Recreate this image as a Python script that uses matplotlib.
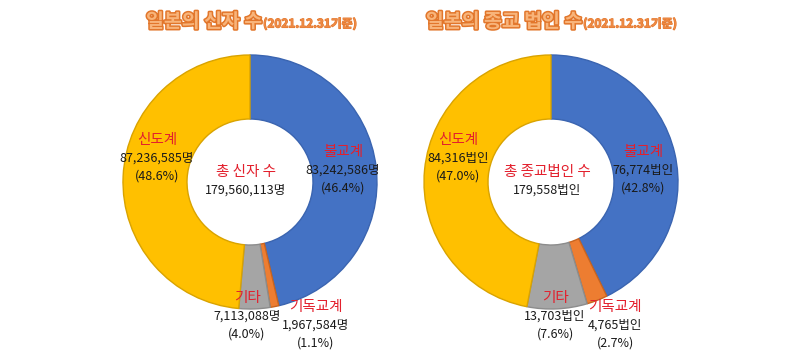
import matplotlib
matplotlib.use("Agg")
import matplotlib.pyplot as plt
import matplotlib.patheffects as pe

plt.rcParams['font.family'] = ['Noto Sans CJK KR', 'DejaVu Sans']

# data, in drawing order (clockwise from 12 o'clock)
categories = ["불교계", "기독교계", "기타", "신도계"]
colors = ["#4472C4", "#ED7D31", "#A5A5A5", "#FFC000"]
edge_colors = ["#3A64B0", "#C8641F", "#8C8C8C", "#D9A300"]

believers = [83242586, 1967584, 7113088, 87236585]
believers_total = 179560113
corporations = [76774, 4765, 13703, 84316]
corporations_total = 179558

W, H = 800, 362
RED = "#E3202D"

fig = plt.figure(figsize=(8, 3.62), dpi=100)
ax = fig.add_axes([0, 0, 1, 1])
ax.set_xlim(0, W)
ax.set_ylim(0, H)
ax.set_aspect("equal")
ax.axis("off")


def y(py):
    return H - py


# label anchors in pixels (name line y), per category
label_pos_left = {
    "불교계": (343, 152),
    "기독교계": (316, 307),
    "기타": (247, 298),
    "신도계": (157, 140),
}
label_pos_right = {
    "불교계": (643, 152),
    "기독교계": (615, 307),
    "기타": (555, 298),
    "신도계": (458, 140),
}


def donut(cx, cy, values, total, unit, pos, center_title, title_main, title_x):
    r = 127
    ax.pie(values, colors=colors, startangle=90, counterclock=False,
           center=(cx, y(cy)), radius=r, frame=True,
           wedgeprops=dict(width=r - 63, linewidth=1.0))
    for w, ec in zip(ax.patches[-len(values):], edge_colors):
        w.set_edgecolor(ec)
    s = sum(values)
    for cat, v in zip(categories, values):
        lx, ly = pos[cat]
        ax.text(lx, y(ly), cat, color=RED, fontsize=10.5, ha="center", va="center")
        ax.text(lx, y(ly + 18), f"{v:,}{unit}", color="#1A1A1A", fontsize=9,
                ha="center", va="center")
        ax.text(lx, y(ly + 36), f"({v / s * 100:.1f}%)", color="#1A1A1A",
                fontsize=9, ha="center", va="center")
    ax.text(cx - 4, y(172), center_title, color=RED, fontsize=10.5,
            ha="center", va="center")
    ax.text(cx - 4, y(190), f"{total:,}{unit}", color="#1A1A1A", fontsize=9,
            ha="center", va="center")
    ax.text(title_x, y(22), title_main, color="#F8B47A", fontsize=14,
            fontweight="heavy", ha="right", va="center",
            path_effects=[pe.withStroke(linewidth=2.2, foreground="#E2762B")])
    ax.text(title_x + 1, y(24), "(2021.12.31기준)", color="#EE8A45", fontsize=8.5,
            fontweight="heavy", ha="left", va="center",
            path_effects=[pe.withStroke(linewidth=0.8, foreground="#E2762B")])


donut(250, 182, believers, believers_total, "명", label_pos_left,
      "총 신자 수", "일본의 신자 수", 262)
donut(551, 182, corporations, corporations_total, "법인", label_pos_right,
      "총 종교법인 수", "일본의 종교 법인 수", 582)

ax.set_xlim(0, W)
ax.set_ylim(0, H)
ax.axis("off")

fig.savefig("out.png", dpi=100, facecolor="white")
